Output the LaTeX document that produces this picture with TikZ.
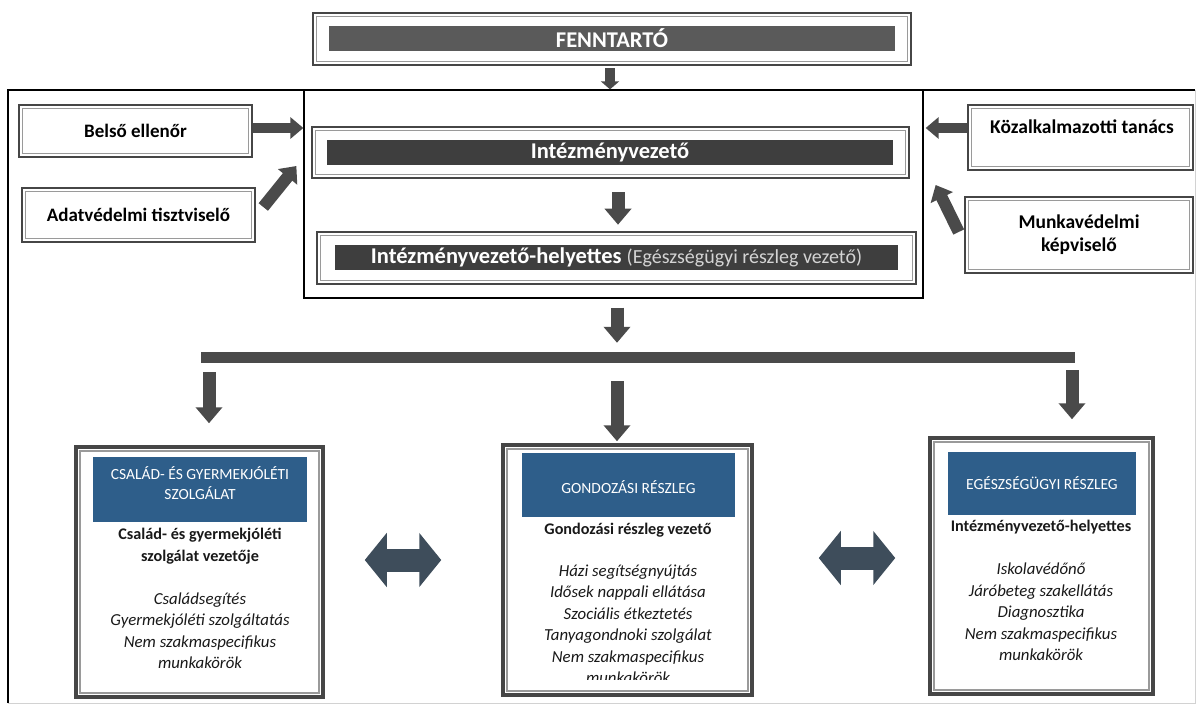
\documentclass[tikz,border=0pt]{standalone}
\usepackage{fontspec}
\setmainfont{Carlito}
\usetikzlibrary{arrows.meta,calc}
\definecolor{dk}{HTML}{464646}
\definecolor{barA}{HTML}{5A5A5A}
\definecolor{barB}{HTML}{3E3E3E}
\definecolor{arrc}{HTML}{4A4A4A}
\definecolor{hdr}{RGB}{46,94,138}
\definecolor{twc}{HTML}{3E4D5B}
\definecolor{inl}{HTML}{9A9A9A}
\definecolor{lgt}{HTML}{D4D4D4}
\tikzset{
  box/.style={draw=dk, line width=2.6pt, fill=white, inner sep=0pt},
  bbox/.style={draw=dk, line width=3.5pt, fill=white, inner sep=0pt},
  inrect/.style={draw=inl, line width=1.1pt},
  darkbar/.style={fill=barB, inner sep=0pt, text=white, font=\fontsize{22.5}{26}\selectfont\bfseries},
  hdrbox/.style={fill=hdr, inner sep=0pt},
  hdrtext/.style={text=white, font=\fontsize{15.5}{20}\selectfont, align=center},
  lbl/.style={font=\fontsize{19}{23}\selectfont\bfseries, align=center, text=black},
  rlbl/.style={font=\fontsize{19.5}{23}\selectfont\bfseries, align=center, text=black},
  boldtxt/.style={font=\fontsize{16.2}{22}\selectfont\bfseries, align=center, text=black!90},
  itxt/.style={font=\fontsize{16.8}{21.5}\selectfont\itshape, align=center, text=black!90},
  fblk/.style={draw=arrc, line width=10pt, -{Triangle[width=18pt,length=8pt]}},
  blk/.style={draw=arrc, line width=10pt, -{Triangle[width=21pt,length=13pt]}},
  dblk/.style={draw=arrc, line width=12pt, -{Triangle[width=24pt,length=14pt]}},
  vblk/.style={draw=arrc, line width=13pt, -{Triangle[width=26pt,length=16pt]}},
  twoway/.style={draw=twc, line width=23pt, {Triangle[width=53pt,length=22pt]}-{Triangle[width=53pt,length=22pt]}},
}
\begin{document}
\begin{tikzpicture}[x=1pt,y=-1pt]
\useasboundingbox[fill=white] (0,0) rectangle (1201,705);

% outer frame
\draw[black, line width=1.3pt] (8,703) -- (8,90) -- (1195,90);
\draw[gray!35, line width=1pt] (1195,90) -- (1195,703) -- (8,703);

% central frame
\node[draw=black, line width=1.3pt, inner sep=0pt, minimum width=619pt, minimum height=208pt] (cf) at (613.5,194) {};

% FENNTARTO
\node[box, minimum width=598pt, minimum height=52pt] (fenn) at (612,39) {};
\node[darkbar, fill=barA, minimum width=566pt, minimum height=25pt] (fennbar) at (612,38.5) {FENNTARTÓ};

% Intezmenyvezeto
\node[box, minimum width=597pt, minimum height=51pt] (iv) at (610.5,152.5) {};
\node[darkbar, minimum width=566pt, minimum height=25pt] (ivbar) at (610,152.5) {Intézményvezető};

% helyettes
\node[box, minimum width=599pt, minimum height=52pt] (ivh) at (616.5,258) {};
\node[darkbar, minimum width=563pt, minimum height=25pt] (ivhbar) at (616.5,257.5)
  {Intézményvezető-helyettes {\mdseries\fontsize{20}{24}\selectfont\color{lgt}(Egészségügyi részleg vezető)}};

% side boxes
\node[box, lbl, minimum width=233pt, minimum height=52pt] (bel) at (135.5,131) {Belső ellenőr};
\node[box, lbl, minimum width=233pt, minimum height=54pt] (adat) at (138.5,215) {Adatvédelmi tisztviselő};
\node[box, minimum width=225pt, minimum height=65pt] (kozal) at (1080.5,137.5) {};
\node[rlbl] (koztxt) at (1082,127) {Közalkalmazotti tanács};
\node[box, rlbl, minimum width=228pt, minimum height=76pt] (munka) at (1079,235) {Munkavédelmi\\képviselő};

% bar
\node[fill=arrc, inner sep=0pt, minimum width=874pt, minimum height=11pt] (bar) at (638,357.5) {};

% bottom boxes
\node[bbox, minimum width=247pt, minimum height=250pt] (lb) at (199.5,572) {};
\node[bbox, minimum width=249pt, minimum height=250pt] (mb) at (627.5,570) {};
\node[bbox, minimum width=223pt, minimum height=256pt] (rb) at (1041.5,566) {};

\foreach \n in {fenn,iv,ivh,bel,adat,kozal,munka}
  \draw[inrect] ($(\n.north west)+(5,5)$) rectangle ($(\n.south east)+(-5,-5)$);

% headers
\node[hdrbox, minimum width=214pt, minimum height=65pt] (lbh) at (200,489.5) {};
\node[hdrtext] (lbht) at (200,483) {CSALÁD- ÉS GYERMEKJÓLÉTI\\SZOLGÁLAT};
\node[hdrbox, minimum width=213pt, minimum height=64pt] (mbh) at (628.5,485) {};
\node[hdrtext] (mbht) at (628.5,487) {GONDOZÁSI RÉSZLEG};
\node[hdrbox, minimum width=188pt, minimum height=63pt] (rbh) at (1042,483.5) {};
\node[hdrtext] (rbht) at (1042,483) {EGÉSZSÉGÜGYI RÉSZLEG};

% texts in bottom boxes
\node[boldtxt] (lbb) at (200,546) {Család- és gyermekjóléti\\szolgálat vezetője};
\node[itxt] (lbi) at (200,630.5) {Családsegítés\\Gyermekjóléti szolgáltatás\\Nem szakmaspecifikus\\munkakörök};
\node[boldtxt] (mbb) at (628,530) {Gondozási részleg vezető};
\begin{scope}
\clip ($(mb.north west)+(6,6)$) rectangle ($(mb.south east)+(-6,-17)$);
\node[itxt] (mbi) at (628,624.5) {Házi segítségnyújtás\\Idősek nappali ellátása\\Szociális étkeztetés\\Tanyagondnoki szolgálat\\Nem szakmaspecifikus\\munkakörök};
\end{scope}
\node[boldtxt] (rbb) at (1041,527) {Intézményvezető-helyettes};
\node[itxt] (rbi) at (1041,612) {Iskolavédőnő\\Járóbeteg szakellátás\\Diagnosztika\\Nem szakmaspecifikus\\munkakörök};

\foreach \n in {lb,mb,rb}
  \draw[inrect, line width=1.6pt] ($(\n.north west)+(5.5,5.5)$) rectangle ($(\n.south east)+(-5.5,-5.5)$);

% arrows
\draw[fblk] ($(fenn.south)+(-2,2)$) -- ($(fenn.south |- cf.north)+(-2,0)$);
\coordinate (belr) at ($(bel.east)+(0,-3)$);
\draw[blk] (belr) -- (belr -| cf.west);
\draw[dblk] ($(adat.east)+(7,-8)$) -- ($(cf.west)+(-7,-28)$);
\coordinate (kozl) at ($(kozal.west)+(0,-9.5)$);
\draw[blk] (kozl) -- ($(kozl -| cf.east)+(2,0)$);
\draw[dblk] ($(munka.west)+(-5,-3)$) -- ($(cf.east)+(12,-9)$);
\draw[vblk] ($(iv.south)+(7.5,13)$) -- ($(ivh.north)+(1.5,-6)$);
\coordinate (c1) at ($(cf.south)+(3.5,9)$);
\draw[vblk, shorten >=9pt] (c1) -- (c1 |- bar.north);
\draw[vblk] ($(lb.north)+(9.5,-73)$) -- ($(lb.north)+(9.5,-22)$);
\draw[vblk] ($(mb.north)+(-10.5,-62)$) -- ($(mb.north)+(-10.5,-2)$);
\draw[vblk] ($(rb.north)+(30.5,-66)$) -- ($(rb.north)+(30.5,-17)$);

% two-way arrows
\draw[twoway] ($(lb.east)+(40,-12)$) -- ($(mb.west)+(-60,-10)$);
\draw[twoway] ($(mb.east)+(65,-12)$) -- ($(rb.west)+(-33,-8)$);
\end{tikzpicture}
\end{document}
